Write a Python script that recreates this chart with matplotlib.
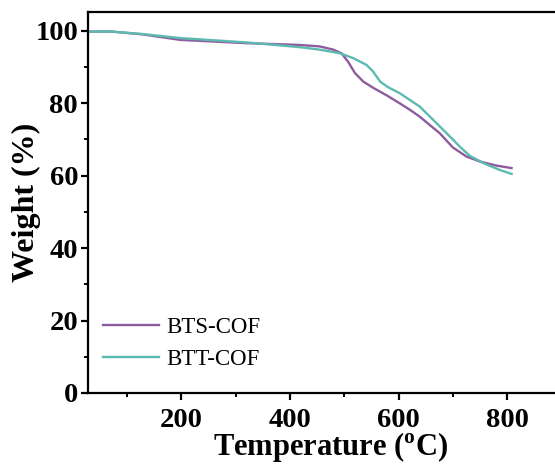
import matplotlib
matplotlib.use("Agg")
import matplotlib.pyplot as plt
from matplotlib.ticker import MultipleLocator

temp_bts = [28, 72, 130, 198, 320, 418, 455, 480, 495, 507, 520, 535, 553, 566, 578, 602, 620, 639,
            676, 700, 725, 750, 780, 808]
weight_bts = [99.8, 99.8, 99.0, 97.5, 96.6, 96.1, 95.7, 94.8, 93.8, 91.5, 88.3, 86.0, 84.3, 83.2,
              82.2, 80.0, 78.3, 76.3, 71.7, 67.8, 65.3, 63.9, 62.8, 62.1]

temp_btt = [28, 72, 130, 198, 320, 418, 455, 492, 516, 541, 553, 566, 581, 602, 639, 676,
            700, 713, 731, 756, 786, 808]
weight_btt = [99.8, 99.8, 99.1, 98.0, 96.8, 95.5, 94.8, 93.8, 92.5, 90.6, 88.8, 86.0, 84.4, 82.8,
              79.1, 73.6, 70.0, 68.0, 65.5, 63.5, 61.6, 60.5]

labels = ["BTS-COF", "BTT-COF"]
colors = ["#8E5C9E", "#5DBAB0"]

plt.rcParams['font.family'] = ['Liberation Serif', 'DejaVu Serif']
plt.rcParams['mathtext.fontset'] = 'custom'
plt.rcParams['mathtext.rm'] = 'Liberation Serif:bold'
plt.rcParams['mathtext.bf'] = 'Liberation Serif:bold'

W, H = 555, 470
fig = plt.figure(figsize=(W/100, H/100), dpi=100)
left_px, right_px, top_px, bot_px = 87.8, 574, 12, 393
ax = fig.add_axes([left_px/W, 1-bot_px/H, (right_px-left_px)/W, (bot_px-top_px)/H])

ax.plot(temp_bts, weight_bts, color=colors[0], lw=1.7, label=labels[0])
ax.plot(temp_btt, weight_btt, color=colors[1], lw=1.7, label=labels[1])

ax.set_xlim(28, 923)
ax.set_ylim(0, 105.2)
ax.xaxis.set_major_locator(MultipleLocator(200))
ax.xaxis.set_minor_locator(MultipleLocator(100))
ax.yaxis.set_major_locator(MultipleLocator(20))
ax.yaxis.set_minor_locator(MultipleLocator(10))
ax.spines['right'].set_visible(False)
for s in ['left', 'bottom', 'top']:
    ax.spines[s].set_linewidth(1.6)
ax.tick_params(which='major', direction='out', length=5, width=1.6, labelsize=20.5)
ax.tick_params(axis='x', which='major', pad=6)
ax.tick_params(axis='y', which='major', pad=2)
ax.tick_params(which='minor', direction='out', length=3, width=1.4)
for lab in ax.get_xticklabels() + ax.get_yticklabels():
    lab.set_fontweight('bold')

ax.set_xlabel(r'Temperature ($^{\mathbf{o}}$C)', fontsize=22, fontweight='bold', labelpad=-2)
ax.set_ylabel('Weight (%)', fontsize=23, fontweight='bold', labelpad=-4)

axw = right_px - left_px
leg = ax.legend(loc='center left', bbox_to_anchor=((103-left_px)/axw, (bot_px-343.5)/(bot_px-top_px)),
                frameon=False, fontsize=16.5, borderpad=0, borderaxespad=0,
                handlelength=2.45, handletextpad=0.3, labelspacing=0.45)

fig.savefig('out.png', dpi=100)
